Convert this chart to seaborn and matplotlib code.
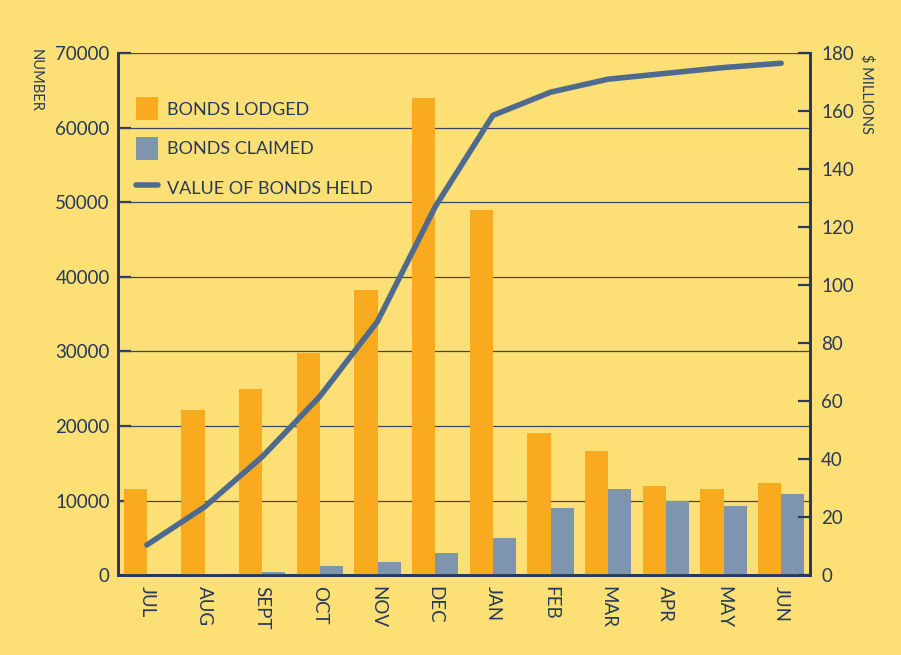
import matplotlib
matplotlib.use("Agg")
import matplotlib.pyplot as plt
import seaborn as sns
import pandas as pd
import numpy as np
from matplotlib.patches import Patch
from matplotlib.lines import Line2D

months = ["JUL", "AUG", "SEPT", "OCT", "NOV", "DEC", "JAN", "FEB", "MAR", "APR", "MAY", "JUN"]
bonds_lodged = [11500, 22100, 25000, 29800, 38200, 64000, 48900, 19000, 16600, 11900, 11500, 12300]
bonds_claimed = [0, 100, 400, 1200, 1700, 3000, 5000, 9000, 11500, 9900, 9200, 10900]
value_held = [10.4, 23.5, 40.8, 61.6, 87.5, 127, 158.5, 166.5, 171, 173, 175, 176.5]

left_ticks = [0, 10000, 20000, 30000, 40000, 50000, 60000, 70000]
right_ticks = [0, 20, 40, 60, 80, 100, 120, 140, 160, 180]

BG = "#FCE076"
ORANGE = "#F9AA1E"
BLUE = "#7E94AF"
LINE = "#4E6A8E"
NAVY = "#27395A"

sns.set_theme(style="white")
plt.rcParams["font.family"] = ["Lato", "DejaVu Sans"]

df = pd.DataFrame({
    "month": months * 2,
    "value": bonds_lodged + bonds_claimed,
    "series": ["BONDS LODGED"] * len(months) + ["BONDS CLAIMED"] * len(months),
})

fig = plt.figure(figsize=(9.01, 6.55), dpi=100, facecolor=BG)
ax = fig.add_axes([0.131, 0.122, 0.768, 0.797])
ax.set_facecolor(BG)

sns.barplot(data=df, x="month", y="value", hue="series", order=months,
            hue_order=["BONDS LODGED", "BONDS CLAIMED"],
            palette=[ORANGE, BLUE], width=0.8, ax=ax, legend=False,
            saturation=1, linewidth=0, zorder=3)

ax.set_ylim(0, 70000)
ax.set_xlim(-0.5, len(months) - 0.5)
ax.set_yticks(left_ticks)
ax.set_yticklabels([str(t) for t in left_ticks])
for t in left_ticks[1:]:
    ax.axhline(t, color="#3a4660", lw=0.9, zorder=1)

ax.set_xlabel("")
ax.set_ylabel("")
ax.set_xticks(np.arange(len(months)))
ax.set_xticklabels(months, rotation=270, fontsize=13.5, color=NAVY)
ax.tick_params(axis="x", length=0, pad=8)
ax.set_xticks(np.arange(len(months) - 1) + 0.5, minor=True)
ax.tick_params(axis="x", which="minor", direction="in", length=9, width=1.6, color=NAVY)
ax.tick_params(axis="y", direction="in", length=9, width=1.6, color=NAVY,
               labelsize=13.5, labelcolor=NAVY, pad=6)

for side in ["left", "bottom", "right"]:
    ax.spines[side].set_color(NAVY)
    ax.spines[side].set_linewidth(2)
ax.spines["top"].set_visible(False)

ax2 = ax.twinx()
sns.lineplot(x=np.arange(len(months)), y=value_held, ax=ax2, color=LINE, lw=4, zorder=5)
ax2.set_ylim(0, 180)
ax2.set_yticks(right_ticks)
ax2.set_yticklabels([str(t) for t in right_ticks])
ax2.tick_params(axis="y", direction="in", length=9, width=1.6, color=NAVY,
                labelsize=13.5, labelcolor=NAVY, pad=8)
for side in ["left", "bottom", "right"]:
    ax2.spines[side].set_color(NAVY)
    ax2.spines[side].set_linewidth(2)
ax2.spines["top"].set_visible(False)
ax2.set_ylabel("")

fig.text(0.040, 0.925, "NUMBER", rotation=270, ha="center", va="top",
         fontsize=10.5, color=NAVY)
fig.text(0.962, 0.918, "$ MILLIONS", rotation=270, ha="center", va="top",
         fontsize=10.5, color=NAVY)

handles = [
    Patch(facecolor=ORANGE, edgecolor="none"),
    Patch(facecolor=BLUE, edgecolor="none"),
    Line2D([0], [0], color=LINE, lw=4),
]
labels = ["BONDS LODGED", "BONDS CLAIMED", "VALUE OF BONDS HELD"]
leg = ax2.legend(handles, labels, loc="upper left", bbox_to_anchor=(0.0, 0.95),
                 frameon=False, fontsize=13, labelcolor=NAVY, handlelength=1.2,
                 handleheight=1.6, handletextpad=0.5, labelspacing=0.9,
                 borderaxespad=0.6)

fig.savefig("out.png", dpi=100, facecolor=BG)
